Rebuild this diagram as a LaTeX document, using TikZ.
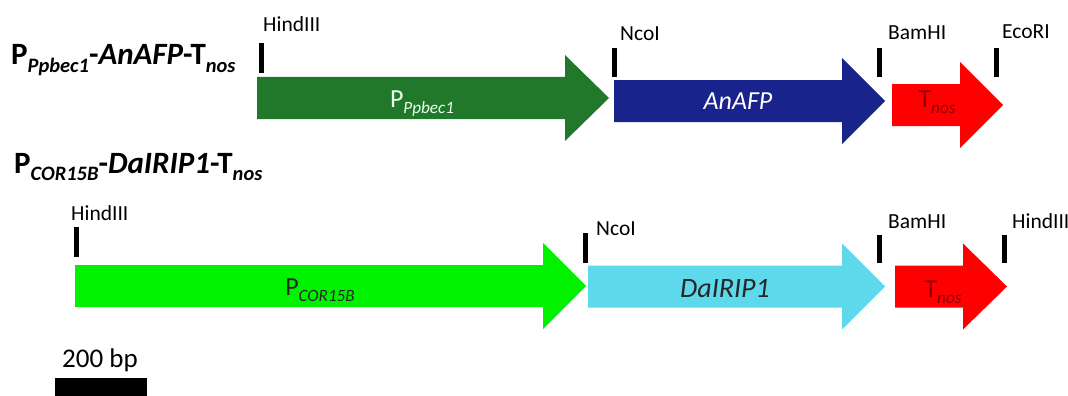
\documentclass[tikz,border=0pt]{standalone}
\usepackage{fontspec}
\setmainfont{Carlito}

\definecolor{promgreen}{HTML}{21782B}
\definecolor{afpblue}{HTML}{19238C}
\definecolor{corgreen}{HTML}{00F200}
\definecolor{ripcyan}{HTML}{5DD9EB}
\definecolor{nosred}{HTML}{FF0000}
\definecolor{nostext}{HTML}{8C0000}

\newcommand{\lowsub}[1]{\raisebox{-0.25em}{\scalebox{0.66}{#1}}}
% block arrow: tail x, head base x, tip x, centre y, colour
\newcommand{\genearrow}[5]{%
  \fill[#5] (#1,#4-21) -- (#2,#4-21) -- (#2,#4-43) -- (#3,#4)
    -- (#2,#4+43) -- (#2,#4+21) -- (#1,#4+21) -- cycle;}

\begin{document}
\begin{tikzpicture}[x=1pt,y=-1pt,
    site/.style={anchor=base west,inner sep=0pt,font=\fontsize{21.5}{21.5}\selectfont},
    cut/.style={line width=5pt},
    part/.style={anchor=base,inner sep=0pt,font=\fontsize{26}{26}\selectfont},
    construct/.style={anchor=base west,inner sep=0pt,font=\fontsize{31}{31}\selectfont\bfseries}]
  \useasboundingbox (0,0) rectangle (1068,396);

  % construct 1
  \node[construct] (title1) at (11,65)
    {P\lowsub{\textit{Ppbec1}}-\textit{AnAFP}-T\lowsub{\textit{nos}}};
  \genearrow{257}{565}{609}{98}{promgreen}
  \genearrow{614}{842}{885}{101}{afpblue}
  \genearrow{892}{960}{1003}{105}{nosred}
  \node[part,text=white!92!green] (ppbec) at (422,107) {P\lowsub{\textit{Ppbec1}}};
  \node[part,text=white] (anafp) at (738,109) {\textit{AnAFP}};
  \node[part,text=nostext] (tnos1) at (937,107) {T\lowsub{\textit{nos}}};
  \draw[cut] (261.5,43) -- (261.5,73);
  \draw[cut] (614,48) -- (614,77);
  \draw[cut] (879,48) -- (879,77);
  \draw[cut] (996,48) -- (996,77);
  \node[site] (hind1) at (263,32) {HindIII};
  \node[site] (nco1) at (620,41) {NcoI};
  \node[site] (bam1) at (888,40) {BamHI};
  \node[site] (eco1) at (1002,39) {EcoRI};

  % construct 2
  \node[construct] (title2) at (14,173)
    {P\lowsub{\textit{COR15B}}-\textit{DaIRIP1}-T\lowsub{\textit{nos}}};
  \genearrow{75}{543}{586}{286}{corgreen}
  \genearrow{588}{842}{885}{286.5}{ripcyan}
  \genearrow{895}{963}{1007}{286.5}{nosred}
  \node[part,text=black!85] (pcor) at (320,295) {P\lowsub{\textit{COR15B}}};
  \node[part,text=black!85,font=\fontsize{28}{28}\selectfont] (dairip) at (725,297) {\textit{DaIRIP1}};
  \node[part,text=nostext] (tnos2) at (943,297) {T\lowsub{\textit{nos}}};
  \draw[cut] (76,227) -- (76,257);
  \draw[cut] (585,233) -- (585,263);
  \draw[cut] (879,235) -- (879,263);
  \draw[cut] (1004,235) -- (1004,263);
  \node[site] (hind2) at (71,220) {HindIII};
  \node[site] (nco2) at (596,235) {NcoI};
  \node[site] (bam2) at (888,228) {BamHI};
  \node[site] (hind3) at (1012,228) {HindIII};

  % scale bar
  \node[anchor=base west,inner sep=0pt,font=\fontsize{27}{27}\selectfont] (bar) at (62,367) {200 bp};
  \fill (55,378) rectangle (147,396);
\end{tikzpicture}
\end{document}
